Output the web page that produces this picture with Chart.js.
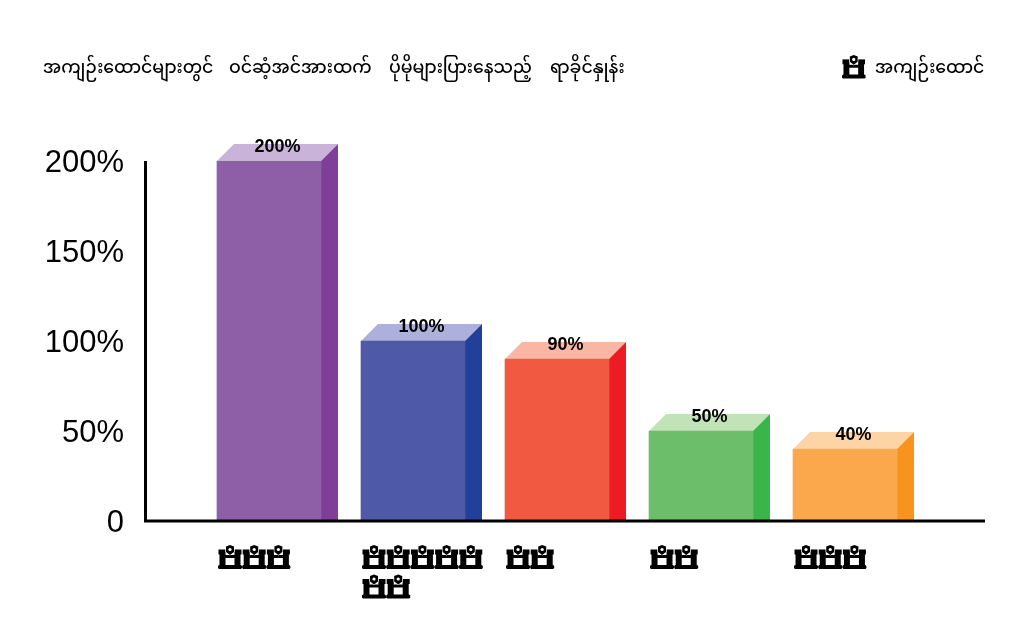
<!DOCTYPE html>
<html>
<head>
<meta charset="utf-8">
<title>အကျဉ်းထောင်</title>
<script src="https://cdn.jsdelivr.net/npm/chart.js@4"></script>
<style>
  html, body { margin: 0; padding: 0; background: #fff; }
  #wrap { position: relative; width: 1030px; height: 628px; }
  canvas { position: absolute; left: 0; top: 0; }
</style>
</head>
<body>
<div id="wrap"><canvas id="myChart" width="1030" height="628"></canvas></div>
<script>
const titleWords = ['အကျဉ်းထောင်များတွင်', 'ဝင်ဆံ့အင်အားထက်', 'ပိုမိုများပြားနေသည့်', 'ရာခိုင်နှုန်း'];
const titleStarts = [43, 229, 389, 550];
const legendText = 'အကျဉ်းထောင်';

// how many prison icons stand under each bar
const iconCounts = [3, 7, 2, 2, 3];
const positions = [0, 1, 2, 3, 4];
const values = [200, 100, 90, 50, 40];
const yTicks = [0, 50, 100, 150, 200];

const frontColors = ['#8e5fa6', '#4e5aa8', '#f15a40', '#6cbe6a', '#fba74c'];
const sideColors = ['#7f3f98', '#21409a', '#ed1c24', '#39b54a', '#f7941d'];
const topColors = ['#c9b3d8', '#adb0da', '#f9b6a2', '#c2e2b8', '#fdd4a6'];

const depth = 17;
const barWidth = 104;
const fontStack = '"Noto Sans Myanmar", Padauk, "Myanmar Text", "DejaVu Sans", "Noto Sans", sans-serif';

function drawIcon(ctx, x, y, s) {
  // s = 1 is a 24px wide icon, x/y is its top left corner
  ctx.save();
  ctx.translate(x, y);
  ctx.scale(s, s);
  ctx.fillStyle = '#000';
  // towers, beam and base
  ctx.fillRect(0.5, 4.5, 7, 5);
  ctx.fillRect(16.5, 4.5, 7, 5);
  ctx.fillRect(1.5, 9, 6, 12);
  ctx.fillRect(16.5, 9, 6, 12);
  ctx.fillRect(7, 10, 10, 3);
  ctx.beginPath();
  ctx.moveTo(1, 20);
  ctx.lineTo(23, 20);
  ctx.lineTo(24, 21);
  ctx.lineTo(24, 23);
  ctx.lineTo(23, 24);
  ctx.lineTo(1, 24);
  ctx.lineTo(0, 23);
  ctx.lineTo(0, 21);
  ctx.closePath();
  ctx.fill();
  // shield over the gate, with a white edge around it
  ctx.strokeStyle = '#fff';
  ctx.lineWidth = 1;
  ctx.beginPath();
  ctx.moveTo(12, 0);
  ctx.lineTo(16, 1.5);
  ctx.lineTo(16, 7);
  ctx.lineTo(12, 10);
  ctx.lineTo(8, 7);
  ctx.lineTo(8, 1.5);
  ctx.closePath();
  ctx.stroke();
  ctx.fill();
  ctx.fillStyle = '#fff';
  ctx.beginPath();
  ctx.arc(12, 4.5, 1.6, 0, Math.PI * 2);
  ctx.fill();
  ctx.restore();
}

const box3d = {
  id: 'box3d',
  beforeDatasetsDraw(chart) {
    const ctx = chart.ctx;
    chart.getDatasetMeta(0).data.forEach((bar, i) => {
      const left = bar.x - bar.width / 2;
      const right = bar.x + bar.width / 2;
      ctx.fillStyle = topColors[i];
      ctx.beginPath();
      ctx.moveTo(left, bar.y);
      ctx.lineTo(left + depth, bar.y - depth);
      ctx.lineTo(right + depth, bar.y - depth);
      ctx.lineTo(right, bar.y);
      ctx.closePath();
      ctx.fill();
      ctx.fillStyle = sideColors[i];
      ctx.beginPath();
      ctx.moveTo(right, bar.y);
      ctx.lineTo(right + depth, bar.y - depth);
      ctx.lineTo(right + depth, bar.base);
      ctx.lineTo(right, bar.base);
      ctx.closePath();
      ctx.fill();
    });
  },
  afterDatasetsDraw(chart) {
    const ctx = chart.ctx;
    const xAxis = chart.scales.x;
    const yAxis = chart.scales.y;
    ctx.save();
    // value labels on the top faces
    ctx.fillStyle = '#000';
    ctx.font = 'bold 18px "Liberation Sans", Arial, sans-serif';
    ctx.textAlign = 'center';
    ctx.textBaseline = 'middle';
    chart.getDatasetMeta(0).data.forEach((bar, i) => {
      ctx.fillText(values[i] + '%', bar.x + depth / 2, bar.y - 14);
    });
    // axis lines
    ctx.fillRect(xAxis.left - 1, yAxis.bottom - 1.5, xAxis.right - xAxis.left + 1, 3);
    ctx.fillRect(xAxis.left - 1, yAxis.top, 3, yAxis.bottom - yAxis.top);
    // icon rows under the bars, five to a row
    iconCounts.forEach((count, i) => {
      const left = xAxis.getPixelForValue(positions[i]) - barWidth / 2;
      for (let n = 0; n < count; n++) {
        const col = n % 5;
        const row = Math.floor(n / 5);
        drawIcon(ctx, left + 1 + col * 24.2, yAxis.bottom + 24 + row * 29.5, 1);
      }
    });
    // title and legend
    ctx.font = '500 17.3px ' + fontStack;
    ctx.textAlign = 'left';
    titleWords.forEach((word, i) => ctx.fillText(word, titleStarts[i], 71));
    ctx.fillText(legendText, 875, 71);
    drawIcon(ctx, 842, 55, 0.98);
    ctx.restore();
  }
};

new Chart(document.getElementById('myChart'), {
  type: 'bar',
  data: {
    datasets: [{
      data: positions.map((p, i) => ({ x: p, y: values[i] })),
      backgroundColor: frontColors,
      barThickness: barWidth,
      borderWidth: 0
    }]
  },
  plugins: [box3d],
  options: {
    responsive: false,
    animation: false,
    layout: { padding: { left: 0, right: 45, top: 161, bottom: 107 } },
    plugins: { legend: { display: false }, tooltip: { enabled: false } },
    scales: {
      x: {
        type: 'linear',
        min: -0.861,
        max: 4.972,
        offset: false,
        afterFit(axis) { axis.height = 0; },
        grid: { display: false },
        border: { display: false },
        ticks: { display: false }
      },
      y: {
        min: 0,
        max: 200,
        afterBuildTicks(axis) { axis.ticks = yTicks.map(v => ({ value: v })); },
        afterFit(axis) { axis.width = 145; },
        grid: { display: false },
        border: { display: false },
        ticks: {
          color: '#000',
          padding: 13,
          labelOffset: 2,
          font: { family: '"Liberation Sans", Arial, sans-serif', size: 31 },
          callback: v => (v === 0 ? '0' : v + '%')
        }
      }
    }
  }
});
</script>
</body>
</html>
